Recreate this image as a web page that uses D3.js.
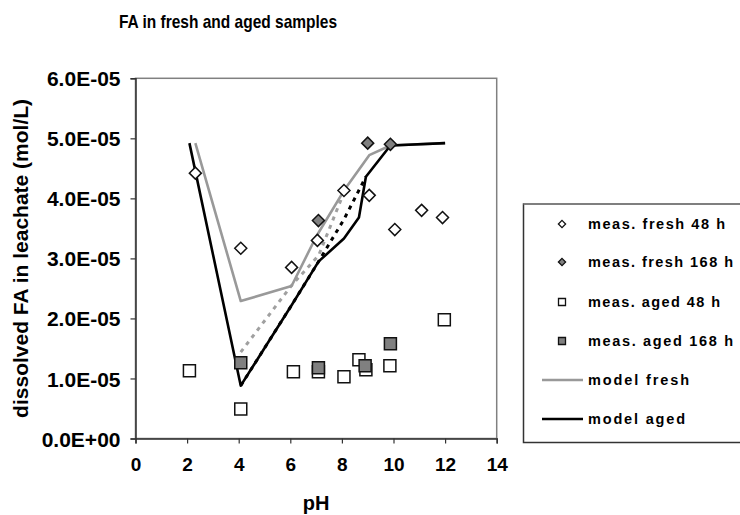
<!DOCTYPE html>
<html>
<head>
<meta charset="utf-8">
<script src="https://cdn.jsdelivr.net/npm/d3@7"></script>
<style>
  html, body { margin: 0; padding: 0; background: #fff; }
  svg { display: block; }
  text { font-family: "Liberation Sans", Arial, sans-serif; font-weight: bold; fill: #000; }
</style>
</head>
<body>
<svg id="chart" width="740" height="515"></svg>
<script>
// Measured fulvic acid (mol/L) against pH
const fresh48pH  = [2.32, 4.08, 6.05, 7.05, 8.08, 9.06, 10.05, 11.09, 11.9];
const fresh48FA  = [4.42e-5, 3.17e-5, 2.85e-5, 3.30e-5, 4.13e-5, 4.05e-5, 3.48e-5, 3.80e-5, 3.68e-5];
const fresh168pH = [7.09, 9.0, 9.88];
const fresh168FA = [3.63e-5, 4.92e-5, 4.90e-5];
const aged48pH   = [2.09, 4.08, 6.12, 7.09, 8.08, 8.66, 8.93, 9.86, 11.97];
const aged48FA   = [1.13e-5, 0.49e-5, 1.11e-5, 1.11e-5, 1.03e-5, 1.31e-5, 1.145e-5, 1.21e-5, 1.98e-5];
const aged168pH  = [4.08, 7.09, 8.9, 9.88];
const aged168FA  = [1.26e-5, 1.18e-5, 1.21e-5, 1.58e-5];

// Model curves
const modelFreshPH = [2.32, 4.08, 6.05, 7.0, 8.08, 9.06, 9.88, 12.0];
const modelFreshFA = [4.92e-5, 2.29e-5, 2.54e-5, 3.36e-5, 4.13e-5, 4.72e-5, 4.88e-5, 4.92e-5];
const modelAgedPH  = [2.09, 4.08, 6.05, 7.1, 8.08, 8.66, 8.93, 9.88, 12.0];
const modelAgedFA  = [4.92e-5, 0.88e-5, 2.22e-5, 2.95e-5, 3.33e-5, 3.68e-5, 4.36e-5, 4.88e-5, 4.92e-5];
const altFreshPH   = [4.08, 6.05, 7.1, 8.08];
const altFreshFA   = [1.44e-5, 2.55e-5, 3.05e-5, 4.10e-5];
const altAgedPH    = [4.08, 6.05, 7.1, 8.08, 8.93];
const altAgedFA    = [0.88e-5, 2.22e-5, 2.95e-5, 3.65e-5, 4.36e-5];

// Axis ticks
const xTicks = [0, 2, 4, 6, 8, 10, 12, 14];
const yTicks = [0, 1e-5, 2e-5, 3e-5, 4e-5, 5e-5, 6e-5];

const legendLabels = ["meas. fresh 48 h", "meas. fresh 168 h", "meas. aged 48 h",
                      "meas. aged 168 h", "model fresh", "model aged"];
const legendWidths = [137, 145, 132, 145, 101, 97];

const zip = (a, b) => a.map((v, i) => [v, b[i]]);

const svg = d3.select("#chart");
const plotL = 135.5, plotR = 496.7, plotT = 78.3, plotB = 438.5;
const x = d3.scaleLinear().domain([0, 14]).range([plotL, plotR]);
const y = d3.scaleLinear().domain([0, 6e-5]).range([plotB, plotT]);

const sci = v => {
  if (v === 0) return "0.0E+00";
  const [m, e] = v.toExponential(1).split("e");
  const n = +e;
  return m + "E" + (n < 0 ? "-" : "+") + String(Math.abs(n)).padStart(2, "0");
};

// Title
svg.append("text")
  .attr("x", 228).attr("y", 28)
  .attr("text-anchor", "middle")
  .attr("font-size", 19)
  .attr("textLength", 218).attr("lengthAdjust", "spacingAndGlyphs")
  .text("FA in fresh and aged samples");

// Plot frame
svg.append("rect")
  .attr("x", plotL).attr("y", plotT)
  .attr("width", plotR - plotL).attr("height", plotB - plotT)
  .attr("fill", "none").attr("stroke", "#808080").attr("stroke-width", 1.5);

// Axes
const xAxis = svg.append("g").attr("transform", `translate(0,${plotB})`)
  .call(d3.axisBottom(x).tickValues(xTicks).tickSize(5).tickPadding(9).tickFormat(d3.format("d")));
const yAxis = svg.append("g").attr("transform", `translate(${plotL},0)`)
  .call(d3.axisLeft(y).tickValues(yTicks).tickSize(5).tickPadding(10).tickFormat(sci));
[xAxis, yAxis].forEach(g => {
  g.select(".domain").attr("stroke", "#333").attr("stroke-width", 1.5);
  g.selectAll(".tick line").attr("stroke", "#333").attr("stroke-width", 1.2);
  g.selectAll("text").attr("font-family", "Liberation Sans, Arial, sans-serif")
    .attr("font-weight", "bold").attr("fill", "#000");
});
xAxis.selectAll("text").attr("font-size", 19).attr("dy", "0.95em");
yAxis.selectAll("text").attr("font-size", 21).attr("dy", "0.36em");

// Axis titles
svg.append("text")
  .attr("x", (plotL + plotR) / 2).attr("y", 510)
  .attr("text-anchor", "middle").attr("font-size", 20)
  .text("pH");
svg.append("text")
  .attr("transform", `translate(28,${(plotT + plotB) / 2}) rotate(-90)`)
  .attr("text-anchor", "middle").attr("font-size", 21)
  .text("dissolved FA in leachate (mol/L)");

// Model lines
const line = d3.line().x(d => x(d[0])).y(d => y(d[1]));
const plot = svg.append("g");
plot.append("path").datum(zip(altFreshPH, altFreshFA)).attr("d", line)
  .attr("fill", "none").attr("stroke", "#a0a0a0").attr("stroke-width", 3).attr("stroke-dasharray", "4,5");
plot.append("path").datum(zip(altAgedPH, altAgedFA)).attr("d", line)
  .attr("fill", "none").attr("stroke", "#000").attr("stroke-width", 3).attr("stroke-dasharray", "4,5");
plot.append("path").datum(zip(modelFreshPH, modelFreshFA)).attr("d", line)
  .attr("fill", "none").attr("stroke", "#999").attr("stroke-width", 2.6).attr("stroke-linejoin", "round");
plot.append("path").datum(zip(modelAgedPH, modelAgedFA)).attr("d", line)
  .attr("fill", "none").attr("stroke", "#000").attr("stroke-width", 2.6).attr("stroke-linejoin", "round");

// Markers
const diamond = r => `M0,${-r}L${r},0L0,${r}L${-r},0Z`;
const square = r => `M${-r},${-r}H${r}V${r}H${-r}Z`;

function markers(pts, shape, fill) {
  plot.append("g").selectAll("path").data(pts).join("path")
    .attr("transform", d => `translate(${x(d[0])},${y(d[1])})`)
    .attr("d", shape)
    .attr("fill", fill).attr("stroke", "#111").attr("stroke-width", 1.5);
}
markers(zip(aged48pH, aged48FA), square(6), "#fff");
markers(zip(aged168pH, aged168FA), square(6), "#808080");
markers(zip(fresh48pH, fresh48FA), diamond(6), "#fff");
markers(zip(fresh168pH, fresh168FA), diamond(6), "#808080");

// Legend
const lg = svg.append("g");
lg.append("rect").attr("x", 523.5).attr("y", 204).attr("width", 230).attr("height", 238.5)
  .attr("fill", "#fff").attr("stroke", "#333").attr("stroke-width", 1.5);
lg.append("line").attr("x1", 523.5).attr("x2", 745).attr("y1", 204).attr("y2", 204)
  .attr("stroke", "#888").attr("stroke-width", 1.5);
const rowY = [224, 262, 302, 341, 380, 419];
const legendSymbols = [
  {shape: diamond(3.6), fill: "#fff"},
  {shape: diamond(3.6), fill: "#808080"},
  {shape: square(3.5), fill: "#fff"},
  {shape: square(3.5), fill: "#808080"},
  {stroke: "#999"},
  {stroke: "#000"}
];
legendSymbols.forEach((s, i) => {
  if (s.shape) {
    lg.append("path").attr("transform", `translate(562,${rowY[i]})`)
      .attr("d", s.shape).attr("fill", s.fill).attr("stroke", "#111").attr("stroke-width", 1.3);
  } else {
    lg.append("line").attr("x1", 542).attr("x2", 583).attr("y1", rowY[i]).attr("y2", rowY[i])
      .attr("stroke", s.stroke).attr("stroke-width", 2.6);
  }
  lg.append("text").attr("x", 588).attr("y", rowY[i] + 5)
    .attr("font-size", 14.5)
    .attr("textLength", legendWidths[i]).attr("lengthAdjust", "spacing")
    .text(legendLabels[i]);
});
</script>
</body>
</html>
